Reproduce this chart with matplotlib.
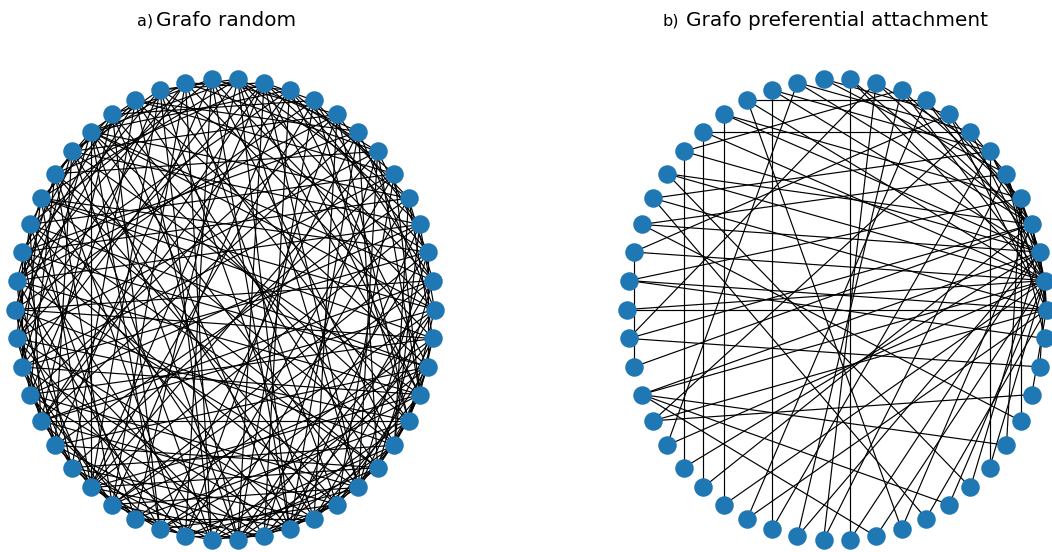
import numpy as np
import matplotlib
matplotlib.use('Agg')
import matplotlib.pyplot as plt
from matplotlib.collections import LineCollection

# number of nodes in each graph (placed on a circle, node 0 on the right)
N_NODES = 50

# edges of the random graph
random_edges = [
    (0, 7), (0, 13), (0, 21), (0, 29), (0, 34), (0, 41), (0, 46),
    (1, 9), (1, 18), (1, 25), (1, 33), (1, 44),
    (2, 6), (2, 15), (2, 27), (2, 38), (2, 43), (2, 48),
    (3, 11), (3, 19), (3, 24), (3, 32), (3, 40),
    (4, 12), (4, 18), (4, 30), (4, 37), (4, 45), (4, 49),
    (5, 10), (5, 22), (5, 31), (5, 42),
    (6, 14), (6, 20), (6, 26), (6, 32), (6, 39), (6, 47),
    (7, 16), (7, 23), (7, 35), (7, 44),
    (8, 13), (8, 19), (8, 28), (8, 36), (8, 41),
    (9, 17), (9, 25), (9, 32), (9, 46),
    (10, 18), (10, 24), (10, 33), (10, 39), (10, 48),
    (11, 15), (11, 20), (11, 29), (11, 32), (11, 38), (11, 43),
    (12, 18), (12, 21), (12, 27), (12, 34), (12, 40), (12, 47),
    (13, 22), (13, 30), (13, 36), (13, 45),
    (14, 19), (14, 26), (14, 33), (14, 42), (14, 49),
    (15, 23), (15, 28), (15, 37), (15, 41),
    (16, 21), (16, 25), (16, 31), (16, 44), (16, 48),
    (17, 24), (17, 29), (17, 35), (17, 40),
    (18, 23), (18, 27), (18, 32), (18, 38), (18, 43), (18, 46),
    (19, 26), (19, 30), (19, 41), (19, 47),
    (20, 28), (20, 33), (20, 36), (20, 45),
    (21, 27), (21, 32), (21, 39), (21, 49),
    (22, 29), (22, 34), (22, 40), (22, 44),
    (23, 31), (23, 37), (23, 42), (23, 48),
    (24, 30), (24, 35), (24, 43),
    (25, 32), (25, 38), (25, 45), (25, 49),
    (26, 31), (26, 36), (26, 41), (26, 46),
    (27, 33), (27, 40), (27, 47),
    (28, 34), (28, 39), (28, 43), (28, 49),
    (29, 35), (29, 42), (29, 46),
    (30, 38), (30, 44), (30, 48),
    (31, 37), (31, 41), (31, 45),
    (32, 36), (32, 40), (32, 44), (32, 47),
    (33, 39), (33, 43), (33, 48),
    (34, 41), (34, 46),
    (35, 42), (35, 47), (35, 49),
    (36, 43), (36, 45),
    (37, 44), (37, 48),
    (38, 42), (38, 46),
    (39, 45), (39, 49),
    (40, 44), (41, 47), (42, 48), (43, 49), (44, 47), (45, 48), (46, 49),
    (0, 3), (0, 18), (0, 38),
    (1, 4), (1, 12), (1, 29), (1, 40),
    (2, 10), (2, 21), (2, 33),
    (3, 8), (3, 28), (3, 45),
    (4, 9), (4, 23),
    (5, 16), (5, 27), (5, 36), (5, 47),
    (6, 11), (6, 43),
    (7, 12), (7, 29), (7, 40),
    (8, 24), (8, 46),
    (9, 11), (9, 38),
    (10, 14), (10, 29),
    (11, 26), (11, 47),
    (12, 15), (12, 43),
    (13, 17), (13, 40),
    (14, 24), (14, 37),
    (15, 19), (15, 32), (15, 46),
    (16, 18), (16, 38),
    (17, 20), (17, 45),
    (18, 20), (18, 35),
    (19, 22), (19, 37),
    (20, 25), (20, 42),
    (21, 24), (21, 44),
    (22, 26), (22, 48),
    (23, 27), (24, 28), (24, 47),
    (25, 29), (26, 29), (27, 30), (28, 31), (29, 32), (30, 33),
    (31, 34), (32, 35), (33, 36), (34, 38), (35, 37), (36, 39),
    (37, 40), (38, 41), (39, 42), (40, 43), (41, 44), (42, 45),
    (43, 46), (44, 46), (45, 47), (46, 48), (47, 49),
]

# edges of the preferential attachment graph (each new node links to 2 older ones)
pa_edges = [
    (0, 1), (0, 2),
    (3, 0), (3, 1), (4, 1), (4, 2), (5, 1), (5, 0),
    (6, 2), (6, 3), (7, 1), (7, 5), (8, 0), (8, 3),
    (9, 2), (9, 4), (10, 1), (10, 4), (11, 6), (11, 3),
    (12, 3), (12, 1), (13, 5), (13, 8), (14, 3), (14, 7),
    (15, 2), (15, 6), (16, 1), (16, 9), (17, 4), (17, 2),
    (18, 7), (18, 1), (19, 2), (19, 10), (20, 1), (20, 3),
    (21, 0), (21, 6), (22, 2), (22, 5), (23, 1), (23, 8),
    (24, 0), (24, 4), (25, 0), (25, 1), (26, 3), (26, 11),
    (27, 23), (27, 3), (28, 2), (28, 1), (29, 0), (29, 7),
    (30, 1), (30, 14), (31, 19), (31, 2), (32, 18), (32, 3),
    (33, 17), (33, 1), (34, 0), (34, 9), (35, 15), (35, 6),
    (36, 10), (36, 2), (37, 5), (37, 11), (38, 12), (38, 2),
    (39, 1), (39, 28), (40, 3), (40, 16), (41, 0), (41, 21),
    (42, 28), (42, 1), (43, 2), (43, 20), (44, 6), (44, 1),
    (45, 28), (45, 4), (46, 4), (46, 22), (47, 29), (47, 0),
    (48, 26), (48, 1), (49, 24), (49, 5),
]

NODE_COLOR = '#1f77b4'


def circular_pos(n):
    theta = 2 * np.pi * np.arange(n) / n
    return np.column_stack([np.cos(theta), np.sin(theta)])


def draw_graph(ax, edges, n):
    pos = circular_pos(n)
    segs = [(pos[a], pos[b]) for a, b in edges]
    lc = LineCollection(segs, colors='k', linewidths=0.85, zorder=1)
    lc.set_clip_on(False)
    ax.add_collection(lc)
    ax.scatter(pos[:, 0], pos[:, 1], s=178, c=NODE_COLOR, zorder=2,
               linewidths=0, clip_on=False)
    ax.set_xlim(-1, 1)
    ax.set_ylim(-1, 1)
    ax.axis('off')


W, H = 1052, 552
fig = plt.figure(figsize=(W / 100, H / 100), dpi=100)

# axes placed in pixels: node centres span x0..x0+419 and y 78.5..540.5
ax1 = fig.add_axes([15 / W, (H - 540.5) / H, 419.5 / W, 462 / H])
ax2 = fig.add_axes([627 / W, (H - 540.5) / H, 419.5 / W, 462 / H])

draw_graph(ax1, random_edges, N_NODES)
draw_graph(ax2, pa_edges, N_NODES)

ty = 1 - 26 / H
fig.text(137 / W, ty, 'a)', fontsize=11.5, va='baseline', ha='left')
fig.text(156 / W, ty, 'Grafo random', fontsize=14.4, va='baseline', ha='left')
fig.text(663 / W, ty, 'b)', fontsize=11.5, va='baseline', ha='left')
fig.text(686 / W, ty, 'Grafo preferential attachment', fontsize=14.4,
         va='baseline', ha='left')

fig.savefig('out.png', dpi=100)
